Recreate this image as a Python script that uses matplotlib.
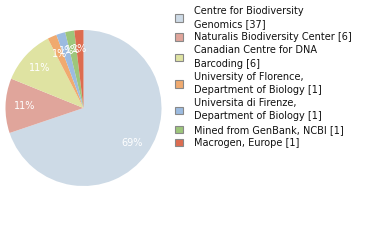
import math
import matplotlib.pyplot as plt
from matplotlib.patches import Patch

# Data ########################################################################

institutions = [
    "Centre for Biodiversity\nGenomics [37]",
    "Naturalis Biodiversity Center [6]",
    "Canadian Centre for DNA\nBarcoding [6]",
    "University of Florence,\nDepartment of Biology [1]",
    "Universita di Firenze,\nDepartment of Biology [1]",
    "Mined from GenBank, NCBI [1]",
    "Macrogen, Europe [1]",
]
counts = [37, 6, 6, 1, 1, 1, 1]
colors = ["#cddae6", "#e0a59b", "#dfe3a2", "#f0aa6f", "#9cbbe0", "#9dc67b", "#dd6c50"]

# Plot ########################################################################

fig = plt.figure(figsize=(3.8, 2.4), dpi=100)
ax = fig.add_axes([5 / 380, 54 / 240, 157 / 380, 156 / 240])

wedges, texts, autotexts = ax.pie(
    counts, colors=colors, startangle=90, counterclock=False,
    autopct=lambda p: "%d%%" % math.floor(p), pctdistance=0.76,
    textprops=dict(color="white", fontsize=7),
    wedgeprops=dict(linewidth=0),
)
ax.set_xlim(-1, 1)
ax.set_ylim(-1, 1)
ax.set_aspect("equal")

handles = [Patch(facecolor=c, edgecolor="#888888", linewidth=0.8) for c in colors]
leg = fig.legend(handles, institutions, loc="upper left",
                 bbox_to_anchor=(170 / 380, 1 - 1 / 240), frameon=False,
                 fontsize=7, handlelength=0.8, handleheight=0.8,
                 handletextpad=1.15, labelspacing=0.33, borderpad=0)
for t in leg.get_texts():
    t.set_linespacing(1.4)
    t.set_color("#111111")

plt.savefig("out.png", dpi=100)
